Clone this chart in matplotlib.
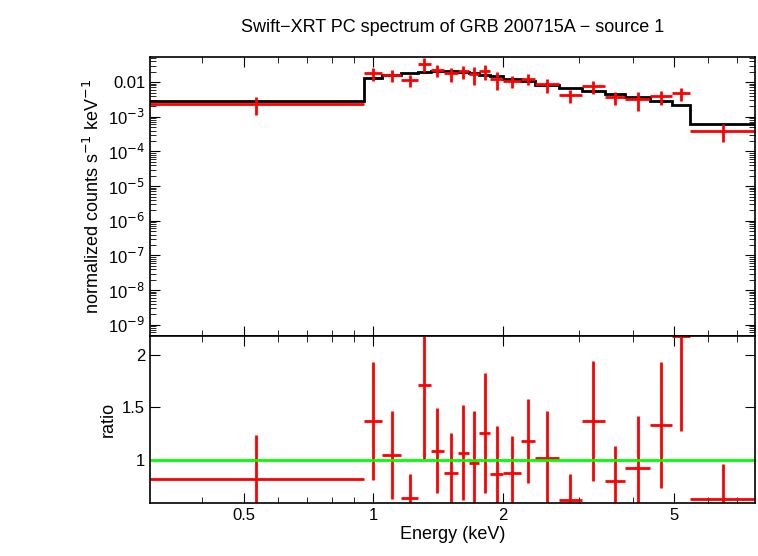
import numpy as np
import matplotlib
matplotlib.use("Agg")
import matplotlib.pyplot as plt
from matplotlib.ticker import FixedLocator, FixedFormatter, NullFormatter, LogLocator

plt.rcParams["font.family"] = "Liberation Sans"

# energy bin edges (keV)
edges = [0.30, 0.95, 1.05, 1.16, 1.27, 1.36, 1.46, 1.57, 1.67, 1.76, 1.87,
         2.0, 2.2, 2.38, 2.7, 3.05, 3.45, 3.85, 4.4, 4.95, 5.45, 7.7]
# folded model per bin (counts/s/keV)
model = [2.9e-3, 1.3e-2, 1.55e-2, 1.8e-2, 2.0e-2, 2.1e-2, 2.05e-2, 1.95e-2, 1.8e-2,
         1.65e-2, 1.45e-2, 1.25e-2, 1.05e-2, 8.5e-3, 6.8e-3, 5.5e-3, 4.5e-3,
         3.6e-3, 2.9e-3, 2.2e-3, 6.3e-4]
# data / model ratio and its error
ratio = [0.82, 1.37, 1.05, 0.64, 1.71, 1.09, 0.88, 1.07, 0.97, 1.26, 0.87,
         0.88, 1.18, 1.02, 0.62, 1.37, 0.80, 0.92, 1.33, 2.18, 0.63]
ratio_err = [0.42, 0.56, 0.42, 0.23, 0.7, 0.40, 0.38, 0.45, 0.50, 0.57, 0.45,
             0.35, 0.40, 0.45, 0.25, 0.57, 0.33, 0.50, 0.60, 0.90, 0.33]

edges = np.array(edges)
model = np.array(model)
ratio = np.array(ratio)
ratio_err = np.array(ratio_err)
cen = np.sqrt(edges[:-1] * edges[1:])
xerr = [cen - edges[:-1], edges[1:] - cen]
data = model * ratio
derr = model * ratio_err
dlo = np.minimum(derr, data * 0.6)

fig = plt.figure(figsize=(7.58, 5.56), dpi=100)
ax1 = fig.add_axes([0.198, 0.396, 0.798, 0.501])
ax2 = fig.add_axes([0.198, 0.095, 0.798, 0.301], sharex=ax1)

ax1.errorbar(cen, data, xerr=xerr, yerr=[dlo, derr], fmt="none", ecolor="red", elinewidth=2)
ax1.stairs(model, edges, color="black", lw=2, baseline=None)
ax1.set_xscale("log")
ax1.set_yscale("log")
ax1.set_ylim(4.8e-10, 0.052)
ax1.set_xlim(0.303, 7.7)
yt = [1e-9, 1e-8, 1e-7, 1e-6, 1e-5, 1e-4, 1e-3, 1e-2]
ax1.yaxis.set_major_locator(FixedLocator(yt))
ax1.yaxis.set_major_formatter(FixedFormatter(
    ["10$^{-9}$", "10$^{-8}$", "10$^{-7}$", "10$^{-6}$", "10$^{-5}$", "10$^{-4}$", "10$^{-3}$", "0.01"]))
ax1.yaxis.set_minor_locator(LogLocator(subs=np.arange(2, 10)))
ax1.yaxis.set_minor_formatter(NullFormatter())
ax1.set_ylabel("normalized counts s$^{-1}$ keV$^{-1}$", fontsize=13)
ax1.set_title("Swift\u2212XRT PC spectrum of GRB 200715A \u2212 source 1", fontsize=13, pad=18)
plt.setp(ax1.get_xticklabels(), visible=False)

ax2.errorbar(cen, ratio, xerr=xerr, yerr=ratio_err, fmt="none", ecolor="red", elinewidth=2)
ax2.axhline(1, color="#00ff00", lw=2)
ax2.set_ylim(0.59, 2.18)
ax2.set_yticks([1, 1.5, 2])
ax2.set_yticklabels(["1", "1.5", "2"])
ax2.set_ylabel("ratio", fontsize=13)
ax2.set_xlabel("Energy (keV)", fontsize=13, labelpad=2)
ax2.xaxis.set_major_locator(FixedLocator([0.5, 1, 2, 5]))
ax2.xaxis.set_major_formatter(FixedFormatter(["0.5", "1", "2", "5"]))
ax2.xaxis.set_minor_locator(FixedLocator([0.4, 0.6, 0.7, 0.8, 0.9, 3, 4, 6, 7]))
ax2.xaxis.set_minor_formatter(NullFormatter())

for ax in (ax1, ax2):
    ax.tick_params(which="both", direction="in", top=True, right=True, labelsize=12)
    ax.tick_params(which="major", length=7)
    ax.tick_params(which="minor", length=4)
    for s in ax.spines.values():
        s.set_linewidth(1.2)

fig.savefig("out.png", dpi=100)
